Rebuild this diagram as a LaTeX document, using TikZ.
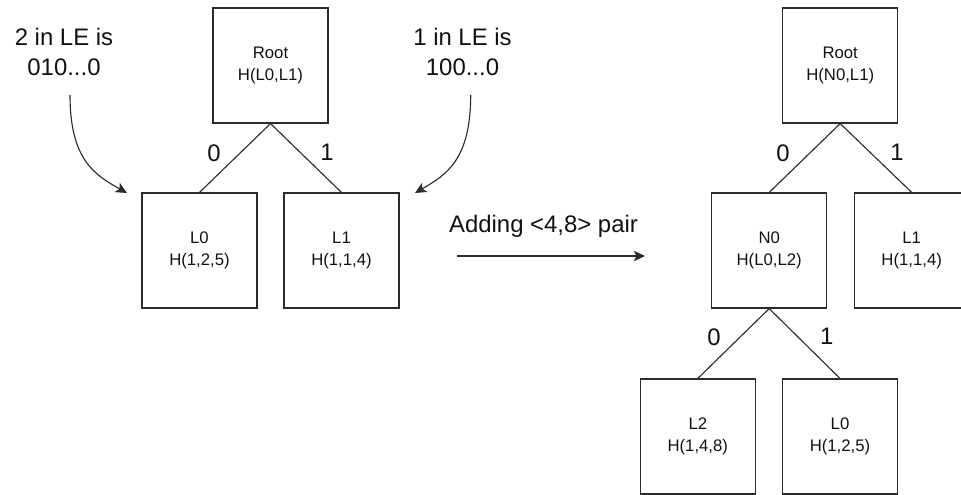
\documentclass[tikz,border=0pt]{standalone}
\usepackage{fontspec}
\setmainfont{Liberation Sans}
\usepackage{xcolor}
\usepackage{tikz}
\usetikzlibrary{arrows.meta,positioning}
\definecolor{treeline}{HTML}{2B2B2B}
\definecolor{treetext}{HTML}{111111}
\tikzset{
  hashbox/.style={draw=treeline, line width=0.8pt, align=center, text=treetext, font=\fontsize{11.9}{15.6}\selectfont, minimum width=2.875cm, minimum height=2.875cm, inner sep=0pt},
  bitlabel/.style={text=treetext, font=\fontsize{17}{20}\selectfont, inner sep=0pt},
  note/.style={align=center, text=treetext, font=\fontsize{17}{21.3}\selectfont, inner sep=0pt},
  branch/.style={line width=0.8pt, draw=treeline},
  pointer/.style={-{Stealth[length=8pt,width=7.5pt,inset=2pt]}, line width=0.8pt, draw=treeline}
}
\begin{document}
\begin{tikzpicture}[x=0.025cm,y=-0.025cm]
  \useasboundingbox (0,0) rectangle (961,494);
  % tree before the insert
  \node[hashbox] (root) at (270.5,65.5) {Root\\H(L0,L1)};
  \node[hashbox] (lzero) at (199.5,250.5) {L0\\H(1,2,5)};
  \node[hashbox] (lone) at (341.5,250.5) {L1\\H(1,1,4)};
  \draw[branch] (root.south) -- (lzero.north);
  \draw[branch] (root.south) -- (lone.north);
  \node[bitlabel] (bitzero) at (214,153) {0};
  \node[bitlabel] (bitone) at (327,152) {1};
  % little-endian notes
  \node[note] (letwo) at (64,52) {2 in LE is\\010...0};
  \node[note] (leone) at (462.5,52) {1 in LE is\\100...0};
  \coordinate (letwotail) at (70,95);
  \coordinate (letwohead) at (127,193);
  \coordinate (leonetail) at (470.7,95);
  \coordinate (leonehead) at (415,193);
  \draw[pointer] (letwotail) .. controls (70,160) and (95,175) .. (letwohead);
  \draw[pointer] (leonetail) .. controls (470.7,160) and (446,175) .. (leonehead);
  % the insert step
  \node[note] (adding) at (543.5,226) {Adding <4,8> pair};
  \coordinate (addtail) at (457,256);
  \coordinate (addhead) at (645,256);
  \draw[pointer] (addtail) -- (addhead);
  % tree after the insert
  \node[hashbox] (rroot) at (840.2,65.5) {Root\\H(N0,L1)};
  \node[hashbox] (nzero) at (769.2,250.5) {N0\\H(L0,L2)};
  \node[hashbox] (rlone) at (911.7,250.5) {L1\\H(1,1,4)};
  \node[hashbox] (ltwo) at (697.8,436.5) {L2\\H(1,4,8)};
  \node[hashbox] (rlzero) at (840,436.5) {L0\\H(1,2,5)};
  \draw[branch] (rroot.south) -- (nzero.north);
  \draw[branch] (rroot.south) -- (rlone.north);
  \draw[branch] (nzero.south) -- (ltwo.north);
  \draw[branch] (nzero.south) -- (rlzero.north);
  \node[bitlabel] (rbitzero) at (783,153) {0};
  \node[bitlabel] (rbitone) at (897,152) {1};
  \node[bitlabel] (nbitzero) at (714,337) {0};
  \node[bitlabel] (nbitone) at (826.7,336) {1};
\end{tikzpicture}
\end{document}
